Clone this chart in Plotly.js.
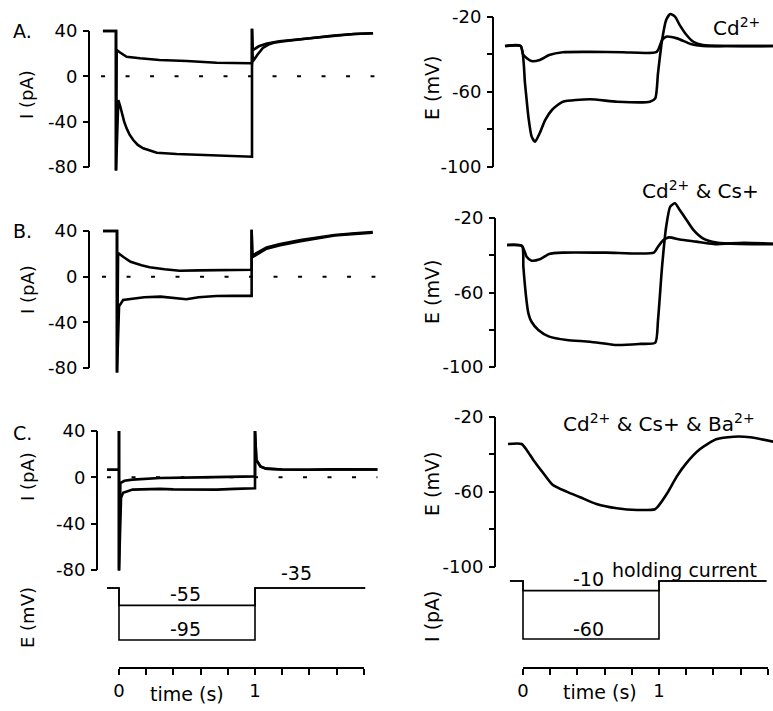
<!DOCTYPE html>
<html><head><meta charset="utf-8">
<script src="https://cdn.plot.ly/plotly-3.0.1.min.js"></script>
<style>html,body{margin:0;padding:0;background:#fff;}#chart{width:773px;height:711px;}</style>
</head><body><div id="chart"></div>
<script>
// ===== DATA (time in s, current in pA, potential in mV) =====
// Left column: voltage clamp currents
const tA_small = [-0.096, 0, 0, 0.005, 0.03, 0.078, 0.176, 0.32, 0.52, 0.74, 0.99, 1, 1, 1.005, 1.05, 1.11, 1.2, 1.35, 1.5, 1.6, 1.75, 1.89];
const iA_small = [40, 40, -83, 23.2, 21, 17.3, 15.9, 14.4, 13.5, 12, 11.5, 11.5, 42, 23, 26.5, 29, 31, 32.7, 34.5, 36, 37.3, 38];
const tA_large = [-0.096, 0, 0, 0.017, 0.03, 0.042, 0.06, 0.078, 0.1, 0.127, 0.16, 0.2, 0.3, 0.446, 0.62, 0.86, 0.985, 1, 1, 1.005, 1.04, 1.08, 1.12, 1.16, 1.22, 1.35, 1.5, 1.6, 1.75, 1.89];
const iA_large = [40, 40, -83, -20.9, -26, -32.6, -40, -45.9, -51.5, -56.2, -60.5, -63.5, -67.4, -68.5, -69.4, -70.3, -70.9, -70.9, 42, 13, 19, 25, 28, 29.7, 30.8, 32.7, 34.5, 36, 37.3, 38];

const tB_small = [-0.103, 0, 0, 0.008, 0.05, 0.1, 0.18, 0.24, 0.35, 0.46, 0.6, 0.73, 0.85, 0.99, 0.99, 0.995, 1.1, 1.2, 1.35, 1.5, 1.6, 1.75, 1.88];
const iB_small = [40, 40, -84, 20.7, 17, 13, 10, 8.2, 6.5, 5.2, 5.5, 5.8, 6, 6, 41, 18.5, 25.5, 28.5, 32, 34.5, 36.5, 38, 39];
const tB_large = [-0.103, 0, 0, 0.015, 0.045, 0.12, 0.2, 0.32, 0.42, 0.51, 0.6, 0.73, 0.85, 0.99, 0.99, 0.995, 1.1, 1.2, 1.35, 1.5, 1.6, 1.75, 1.88];
const iB_large = [40, 40, -84, -26, -20.4, -19, -18, -17.5, -18.5, -19.8, -18, -17, -16.8, -16.8, 41, 17, 24.5, 27.5, 31, 34, 36, 37.5, 38.5];

const tC_small = [-0.088, 0, 0, 0, 0.01, 0.04, 0.1, 0.3, 0.6, 0.8, 1, 1, 1.01, 1.04, 1.08, 1.2, 1.4, 1.6, 1.9];
const iC_small = [6.5, 6.5, 40, -80.5, -5, -3, -2, -0.6, 0, 0.5, 0.8, 40, 15, 9.4, 7.5, 6.8, 6.5, 7, 6.8];
const tC_large = [-0.088, 0, 0, 0, 0.015, 0.03, 0.1, 0.2, 0.3, 0.4, 0.5, 0.6, 0.72, 0.85, 1, 1, 1.01, 1.04, 1.08, 1.2, 1.4, 1.6, 1.9];
const iC_large = [6.5, 6.5, 40, -80.5, -17.7, -13.4, -10.6, -10.2, -10, -10.4, -10.6, -10.2, -10.6, -10, -9.4, 40, 15, 9.4, 7.5, 6.8, 6.5, 7, 6.8];

const zeroSpanA = [-0.11, 1.9];
const zeroSpanB = [-0.11, 1.9];
const zeroSpanC = [-0.088, 1.9];
const zeroLevel = [0, 0];

// Voltage protocol (left C)
const tProtoE = [-0.088, 0, 0, 1, 1, 1.81];
const eProto_small = [-35, -35, -55, -55, -35, -35];
const eProto_large = [-35, -35, -95, -95, -35, -35];

// Right column: current clamp potentials
const tEA_small = [-0.125, -0.01, 0.01, 0.07, 0.13, 0.2, 0.3, 0.5, 0.74, 0.99, 1.03, 1.06, 1.14, 1.24, 1.33, 1.5, 1.85];
const eA_small = [-35.5, -35.5, -40.3, -43.5, -42.9, -40.3, -38.8, -38.6, -38.8, -38.6, -32.3, -30.5, -31.4, -34.4, -35.5, -35.5, -35.5];
const tEA_large = [-0.125, -0.01, 0.022, 0.047, 0.071, 0.096, 0.13, 0.17, 0.22, 0.3, 0.5, 0.7, 0.94, 0.98, 1.0, 1.03, 1.06, 1.09, 1.125, 1.16, 1.21, 1.26, 1.33, 1.5, 1.85];
const eA_large = [-35.5, -35.5, -55.4, -73.2, -83.8, -86.5, -82, -75, -69.6, -65.2, -63.9, -65.2, -65.2, -63.4, -50, -32.3, -21.6, -18.4, -19.8, -24.3, -29.6, -33.2, -35, -35.5, -35.5];

const tEB_small = [-0.11, 0, 0.034, 0.07, 0.13, 0.2, 0.3, 0.62, 0.97, 1.0, 1.04, 1.08, 1.16, 1.28, 1.41, 1.63, 1.85];
const eB_small = [-34.5, -35, -40.8, -42.9, -42.2, -39.3, -38.6, -38.6, -38.6, -35.4, -31.8, -30.4, -31.5, -32.7, -34, -33.3, -33.8];
const tEB_large = [-0.11, 0, 0.01, 0.03, 0.047, 0.07, 0.12, 0.2, 0.33, 0.5, 0.7, 0.87, 0.98, 1.0, 1.03, 1.06, 1.09, 1.125, 1.16, 1.21, 1.26, 1.33, 1.43, 1.6, 1.85];
const eB_large = [-34.5, -35, -46.1, -62.3, -71.2, -75.7, -80.1, -83.7, -85.5, -86.4, -88.2, -87.6, -86.9, -74.8, -46.1, -24.7, -13.9, -12.1, -15.7, -21.1, -26.4, -30.9, -33.2, -34, -34];

const tEC = [-0.11, -0.01, 0.027, 0.076, 0.15, 0.22, 0.32, 0.42, 0.54, 0.69, 0.84, 0.97, 0.995, 1.06, 1.13, 1.2, 1.3, 1.42, 1.55, 1.67, 1.84];
const eC = [-34.4, -34.4, -37.6, -42.9, -50, -56.3, -59.8, -62.8, -66.4, -68.7, -69.6, -69.2, -67.5, -60.7, -51.8, -44.7, -37.2, -31.9, -30.5, -30.8, -33.2];

// Current protocol (right C)
const tProtoI = [-0.096, 0, 0, 1, 1, 1.79];
const iProto_small = [0, 0, -10, -10, 0, 0];
const iProto_large = [0, 0, -60, -60, 0, 0];

// Tick values / labels
const iTickVals = [40, 0, -40, -80];
const iTickText = ['40', '0', '-40', '-80'];
const iMinorVals = [];
const iAxisSpan = [-80, 40];
const eTickVals = [-20, -60, -100];
const eTickText = ['-20', '-60', '-100'];
const eMinorVals = [-40, -80];
const eAxisSpan = [-100, -20];
const timeTickVals = [0, 1];
const timeTickText = ['0', '1'];
const timeMinorVals = [0.2, 0.4, 0.6, 0.8, 1.2, 1.4, 1.6, 1.8];
const timeRange = [0, 1.8];

// ===== LAYOUT =====
const W = 773, H = 711, PXS = 136;
const FONT = 'DejaVu Sans';
const px = p => p / W, py = p => 1 - p / H;
function yDom(v1, q1, v2, q2, lo, hi) {
  const f = v => q1 + (v - v1) * (q2 - q1) / (v2 - v1);
  return [1 - f(lo) / H, 1 - f(hi) / H];
}
const subs = [
  {p0: 116, xa: 98, xb: 380, ym: [40, 31, -80, 167], r: [-84, 43], pos: 89, tv: iTickVals, tt: iTickText, mv: iMinorVals, span: iAxisSpan},
  {p0: 117, xa: 98, xb: 380, ym: [40, 231, -80, 368], r: [-86, 43], pos: 89, tv: iTickVals, tt: iTickText, mv: iMinorVals, span: iAxisSpan},
  {p0: 119, xa: 100, xb: 380, ym: [40, 431, -80, 570], r: [-83, 42], pos: 97, tv: iTickVals, tt: iTickText, mv: iMinorVals, span: iAxisSpan},
  {p0: 119, xa: 100, xb: 380, ym: [-35, 588, -95, 640], r: [-100, -30], pos: null},
  {p0: 522, xa: 500, xb: 773, ym: [-20, 17, -100, 167], r: [-103, -15], pos: 493, tv: eTickVals, tt: eTickText, mv: eMinorVals, span: eAxisSpan},
  {p0: 522, xa: 500, xb: 773, ym: [-20, 218, -100, 367], r: [-103, -9], pos: 495, tv: eTickVals, tt: eTickText, mv: eMinorVals, span: eAxisSpan},
  {p0: 523, xa: 500, xb: 773, ym: [-20, 417, -100, 567], r: [-103, -17], pos: 495, tv: eTickVals, tt: eTickText, mv: eMinorVals, span: eAxisSpan},
  {p0: 523, xa: 500, xb: 773, ym: [0, 581, -60, 639], r: [-65, 5], pos: null}
];

const layout = {
  width: W, height: H, margin: {l: 0, r: 0, t: 0, b: 0},
  paper_bgcolor: '#fff', plot_bgcolor: 'rgba(0,0,0,0)',
  showlegend: false, font: {family: FONT, color: '#000', size: 18},
  shapes: [], annotations: []
};
function minorTicks(vals) {
  return {tickvals: vals, ticks: 'outside', ticklen: 6, tickwidth: 2, tickcolor: '#000', showgrid: false};
}
subs.forEach((s, i) => {
  const n = i + 1, sx = n === 1 ? '' : n;
  layout['xaxis' + sx] = {domain: [px(s.xa), px(s.xb)], range: [(s.xa - s.p0) / PXS, (s.xb - s.p0) / PXS],
    anchor: 'y' + sx, visible: false, fixedrange: true};
  const dom = yDom(s.ym[0], s.ym[1], s.ym[2], s.ym[3], s.r[0], s.r[1]);
  if (s.pos === null) {
    layout['yaxis' + sx] = {domain: dom, range: s.r, anchor: 'x' + sx, visible: false, fixedrange: true};
  } else {
    const ya = {domain: dom, range: s.r, anchor: 'free', position: px(s.pos),
      showline: false, showgrid: false, zeroline: false, ticks: 'outside', ticklen: 6, tickwidth: 2,
      tickcolor: '#000', tickmode: 'array', tickvals: s.tv, ticktext: s.tt,
      tickfont: {family: FONT, size: 18, color: '#000'}, ticklabelstandoff: 2, fixedrange: true};
    if (s.mv.length) ya.minor = minorTicks(s.mv);
    layout['yaxis' + sx] = ya;
    layout.shapes.push({type: 'line', xref: 'paper', yref: 'y' + sx, x0: px(s.pos), x1: px(s.pos),
      y0: s.span[0], y1: s.span[1], line: {color: '#000', width: 2}});
  }
});
// time axes
const timeAxes = [{n: 9, p0: 119}, {n: 10, p0: 523}];
timeAxes.forEach(a => {
  layout['xaxis' + a.n] = {domain: [px(a.p0), px(a.p0 + timeRange[1] * PXS)], range: timeRange, anchor: 'y' + a.n,
    showline: true, linewidth: 2, linecolor: '#000', showgrid: false, zeroline: false,
    ticks: 'outside', ticklen: 6, tickwidth: 2, tickcolor: '#000', tickmode: 'array',
    tickvals: timeTickVals, ticktext: timeTickText, minor: minorTicks(timeMinorVals),
    tickfont: {family: FONT, size: 18, color: '#000'}, fixedrange: true};
  layout['yaxis' + a.n] = {domain: [py(667), py(655)], range: [0, 1], visible: false, anchor: 'x' + a.n, fixedrange: true};
});

function ax(n) { return n === 1 ? '' : String(n); }
const traces = [];
function line(x, y, n, opts) {
  traces.push(Object.assign({x: x, y: y, xaxis: 'x' + ax(n), yaxis: 'y' + ax(n), type: 'scatter', mode: 'lines',
    hoverinfo: 'skip', line: {color: '#000', width: 2.6}}, opts || {}));
}
const dotted = {line: {color: '#000', width: 2, dash: '4px,20.5px'}};
line(zeroSpanA, zeroLevel, 1, dotted);
line(zeroSpanB, zeroLevel, 2, dotted);
line(zeroSpanC, zeroLevel, 3, dotted);
line(tA_small, iA_small, 1); line(tA_large, iA_large, 1);
line(tB_small, iB_small, 2); line(tB_large, iB_large, 2);
line(tC_small, iC_small, 3); line(tC_large, iC_large, 3);
const thin = {line: {color: '#000', width: 1.6}};
line(tProtoE, eProto_small, 4, thin); line(tProtoE, eProto_large, 4, thin);
const smooth = {line: {color: '#000', width: 2.6, shape: 'spline', smoothing: 0.6}};
line(tEA_small, eA_small, 5, smooth); line(tEA_large, eA_large, 5, smooth);
line(tEB_small, eB_small, 6, smooth); line(tEB_large, eB_large, 6, smooth);
line(tEC, eC, 7, smooth);
line(tProtoI, iProto_small, 8, thin); line(tProtoI, iProto_large, 8, thin);
traces.push({x: [], y: [], xaxis: 'x9', yaxis: 'y9', type: 'scatter', mode: 'lines', hoverinfo: 'skip'});
traces.push({x: [], y: [], xaxis: 'x10', yaxis: 'y10', type: 'scatter', mode: 'lines', hoverinfo: 'skip'});

function note(text, x, y, size, angle) {
  layout.annotations.push({text: text, xref: 'paper', yref: 'paper', x: px(x), y: py(y),
    xanchor: 'center', yanchor: 'middle', showarrow: false, textangle: angle || 0,
    font: {family: FONT, size: size, color: '#000'}});
}
note('A.', 22, 31, 19); note('B.', 22, 231, 19); note('C.', 22, 433, 19);
note('I (pA)', 27, 95, 18, -90); note('I (pA)', 27, 290, 18, -90); note('I (pA)', 27, 477, 18, -90);
note('E (mV)', 27, 618, 18, -90);
note('E (mV)', 432, 88, 19, -90); note('E (mV)', 432, 292, 19, -90); note('E (mV)', 432, 484, 19, -90);
note('I (pA)', 432, 616, 19, -90);
note('Cd<sup>2+</sup>', 736, 27, 20);
note('Cd<sup>2+</sup> & Cs+', 700, 190, 20);
note('Cd<sup>2+</sup> & Cs+ & Ba<sup>2+</sup>', 659, 423, 20);
note('-55', 185, 594, 19); note('-95', 185, 629, 19); note('-35', 296, 573, 19);
note('-10', 588, 579, 19); note('-60', 588, 629, 19); note('holding current', 684, 570, 19);
note('time (s)', 187, 694, 19); note('time (s)', 600, 692, 19);

Plotly.newPlot('chart', traces, layout, {staticPlot: true, displayModeBar: false});
</script></body></html>
